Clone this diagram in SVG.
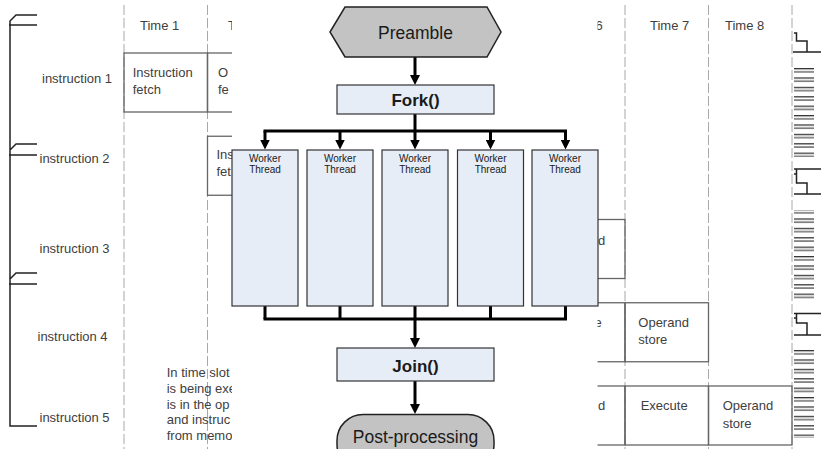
<svg xmlns="http://www.w3.org/2000/svg" width="821" height="449" viewBox="0 0 821 449">
<style>
.bt{font-family:"Liberation Sans",Arial,sans-serif;font-size:13px;fill:#404040}
.dash{stroke:#a8a8a8;stroke-width:1;stroke-dasharray:10 3;fill:none}
.cell{fill:none;stroke:#666;stroke-width:1.3}
.br{fill:none;stroke:#222;stroke-width:1.5}
.stp{fill:none;stroke:#222;stroke-width:1.5}
.wk{fill:#e6edf7;stroke:#333;stroke-width:1.2}
.gr{fill:#c3c3c3;stroke:#222;stroke-width:1.5}
.ft{font-family:"Liberation Sans",Arial,sans-serif;fill:#1a1a1a;text-anchor:middle}
.con{fill:none;stroke:#000;stroke-width:3}
</style>
<defs>
<clipPath id="bgclip"><rect x="0" y="0" width="232" height="449"/><rect x="597.5" y="0" width="223.5" height="449"/></clipPath>
<marker id="ah" viewBox="0 0 10 10" refX="5" refY="5" markerWidth="10" markerHeight="10" markerUnits="userSpaceOnUse" orient="auto"><path d="M0,0 L10,5 L0,10 z" fill="#000"/></marker>
<pattern id="stripes" patternUnits="userSpaceOnUse" x="0" y="68" width="30" height="9.4"><rect x="0" y="0" width="30" height="1.3" fill="#333"/><rect x="0" y="3.2" width="30" height="1.3" fill="#555"/></pattern>
</defs>
<rect width="821" height="449" fill="#fff"/>
<g id="background" clip-path="url(#bgclip)">
<g id="grid">
<path class="dash" d="M124,5 V449 M207.5,5 V449 M625,5 V449 M708.5,5 V449 M792,5 V449"/>
</g>
<g id="bracket">
<path class="br" d="M37,15 H16 L10,21 V426 H37 M9,25 H37 M37,144 H16 L10,150 M9,155 H37 M37,273 H16 L10,279 M9,284 H37"/>
</g>
<g id="row-labels" class="bt">
<text x="42" y="82.5">instruction 1</text>
<text x="39.5" y="163">instruction 2</text>
<text x="39.5" y="253">instruction 3</text>
<text x="37.5" y="341">instruction 4</text>
<text x="39.5" y="422">instruction 5</text>
</g>
<g id="headers" class="bt">
<text x="140" y="30">Time 1</text>
<text x="228" y="30">T</text>
<text x="595.5" y="30">6</text>
<text x="650" y="30">Time 7</text>
<text x="725" y="30">Time 8</text>
</g>
<g id="cells">
<rect class="cell" x="124" y="53" width="83.5" height="59"/>
<rect class="cell" x="207.5" y="53" width="83.5" height="59"/>
<rect class="cell" x="207.5" y="136.25" width="83.5" height="59"/>
<rect class="cell" x="541.5" y="219.5" width="83.5" height="59" stroke="#999"/>
<rect class="cell" x="541.5" y="302.75" width="83.5" height="59"/>
<rect class="cell" x="625" y="302.75" width="83.5" height="59"/>
<rect class="cell" x="541.5" y="386" width="83.5" height="59"/>
<rect class="cell" x="625" y="386" width="83.5" height="59"/>
<rect class="cell" x="708.5" y="386" width="83.5" height="59"/>
</g>
<g id="cell-texts" class="bt">
<text x="132.7" y="76.5">Instruction</text><text x="132.7" y="93.5">fetch</text>
<text x="218" y="76.5">O</text><text x="218" y="93.5">fe</text>
<text x="216.5" y="158.5">Ins</text><text x="216.5" y="175.5">fet</text>
<text x="598" y="244.5">d</text>
<text x="594.5" y="327">e</text>
<text x="638.3" y="327">Operand</text><text x="638.3" y="344">store</text>
<text x="598" y="410">d</text>
<text x="640.7" y="410">Execute</text>
<text x="722.7" y="410">Operand</text><text x="722.7" y="428">store</text>
</g>
<g id="note" class="bt">
<text x="166.7" y="377">In time slot</text>
<text x="166.7" y="393">is being exe</text>
<text x="166.7" y="408.5">is in the op</text>
<text x="166.7" y="424">and instruc</text>
<text x="166.7" y="440">from memo</text>
</g>
<g id="edge-legend">
<path class="stp" d="M794,33 H796.5 V41 H807 V52 M793,52 H821"/>
<path class="stp" d="M794,169 H821 M794,174 H796.5 M796.5,169 V183 H807 V194 M794,194 H821"/>
<path class="stp" d="M794,313.5 H821 M794,318 H796.5 M796.5,313.5 V323 H807 V335 M794,335 H821"/>
<rect x="794" y="68" width="20" height="89" fill="url(#stripes)"/>
<rect x="794" y="210" width="20" height="93" fill="url(#stripes)"/>
<rect x="794" y="349" width="20" height="89" fill="url(#stripes)"/>
</g>
</g>
<g id="connectors">
<path class="con" d="M415,57 V80" marker-end="url(#ah)"/>
<path class="con" d="M415,114 V131"/>
<path class="con" d="M265,131 H565.5" stroke-linecap="square"/>
<path class="con" d="M265,131 V144.5" marker-end="url(#ah)"/>
<path class="con" d="M340,131 V144.5" marker-end="url(#ah)"/>
<path class="con" d="M415,131 V144.5" marker-end="url(#ah)"/>
<path class="con" d="M490.5,131 V144.5" marker-end="url(#ah)"/>
<path class="con" d="M565.5,131 V144.5" marker-end="url(#ah)"/>
<path class="con" d="M265,306 V319 M340,306 V319 M415,306 V319 M490.5,306 V319 M565.5,306 V319"/>
<path class="con" d="M265,319 H565.5" stroke-linecap="square"/>
<path class="con" d="M415,319 V343" marker-end="url(#ah)"/>
<path class="con" d="M415,381 V409" marker-end="url(#ah)"/>
</g>
<g id="preamble">
<polygon class="gr" points="330,32 345,7 487,7 501,32 487,57 345,57"/>
<text class="ft" x="415.5" y="38.5" font-size="17.5">Preamble</text>
</g>
<g id="fork">
<rect class="wk" x="337" y="85" width="157" height="29"/>
<text class="ft" x="415.5" y="105.5" font-size="17" font-weight="bold">Fork()</text>
</g>
<g id="worker1"><rect class="wk" x="232" y="150" width="66" height="156"/><text class="ft" x="265" y="161.5" font-size="10">Worker</text><text class="ft" x="265" y="173" font-size="10">Thread</text></g>
<g id="worker2"><rect class="wk" x="307" y="150" width="66" height="156"/><text class="ft" x="340" y="161.5" font-size="10">Worker</text><text class="ft" x="340" y="173" font-size="10">Thread</text></g>
<g id="worker3"><rect class="wk" x="382" y="150" width="66" height="156"/><text class="ft" x="415" y="161.5" font-size="10">Worker</text><text class="ft" x="415" y="173" font-size="10">Thread</text></g>
<g id="worker4"><rect class="wk" x="457.5" y="150" width="66" height="156"/><text class="ft" x="490.5" y="161.5" font-size="10">Worker</text><text class="ft" x="490.5" y="173" font-size="10">Thread</text></g>
<g id="worker5"><rect class="wk" x="532" y="150" width="66" height="156"/><text class="ft" x="565" y="161.5" font-size="10">Worker</text><text class="ft" x="565" y="173" font-size="10">Thread</text></g>
<g id="join">
<rect class="wk" x="337" y="348" width="157" height="33"/>
<text class="ft" x="415.5" y="371.5" font-size="17" font-weight="bold">Join()</text>
</g>
<g id="post-processing">
<rect class="gr" x="337" y="414.5" width="157" height="56" rx="26"/>
<text class="ft" x="415.5" y="443" font-size="17.5">Post-processing</text>
</g>
</svg>
